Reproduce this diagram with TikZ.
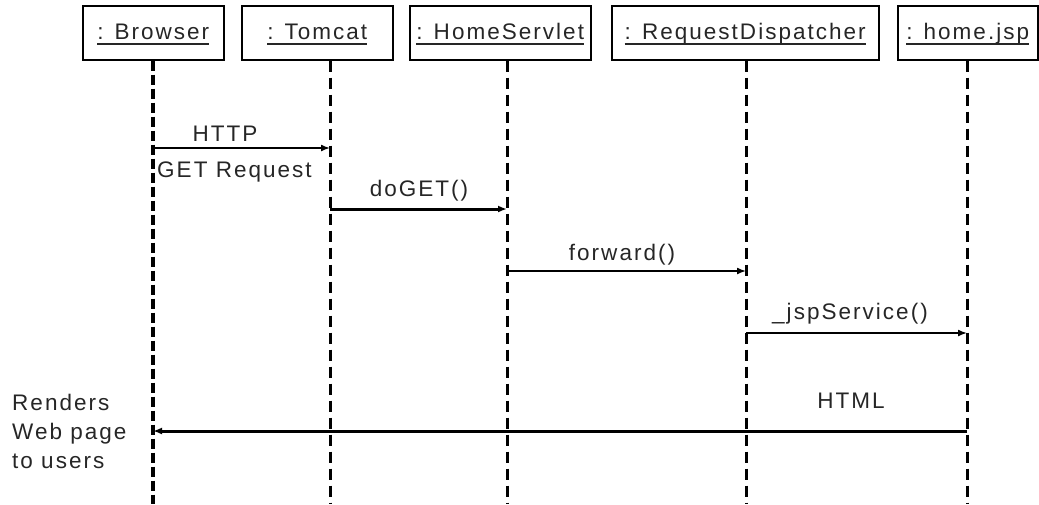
\documentclass[tikz,border=0pt]{standalone}
\usepackage{fontspec}
\usetikzlibrary{arrows.meta}
\newfontfamily\diagfont[LetterSpace=9]{Liberation Sans}
\newcommand\hdul[1]{\setbox0\hbox{#1}\rlap{\rule[-5pt]{\wd0}{1.3pt}}\box0}
\tikzset{
  objbox/.style={draw=black, line width=1.5pt, minimum height=54pt, inner sep=0pt, anchor=north west},
  txt/.style={font=\diagfont\fontsize{22.5}{29}\selectfont, text=black!85, inner sep=0pt},
  life/.style={line width=3pt, dash pattern=on 11pt off 6pt},
  lifeb/.style={line width=4.5pt, dash pattern=on 10pt off 4pt},
  msg/.style={line width=1.5pt, -{Latex[length=9pt,width=7pt]}},
  msgthick/.style={line width=3pt, -{Latex[length=9pt,width=7pt]}}
}
\begin{document}
\begin{tikzpicture}[x=1pt,y=-1pt]
\useasboundingbox (0,0) rectangle (1039,504);
% header boxes
\node[objbox, minimum width=141pt] (browser) at (82,5) {};
\node[objbox, minimum width=151pt] (tomcat) at (241,5) {};
\node[objbox, minimum width=181pt] (servlet) at (409,5) {};
\node[objbox, minimum width=267pt] (dispatcher) at (611,5) {};
\node[objbox, minimum width=140pt] (jsp) at (897,5) {};
\node[txt, anchor=base] (tbrowser) at ([yshift=-7pt]browser.center) {\hdul{: Browser}};
\node[txt, anchor=base] (ttomcat) at ([yshift=-7pt]tomcat.center) {\hdul{: Tomcat}};
\node[txt, anchor=base] (tservlet) at ([yshift=-7pt]servlet.center) {\hdul{: HomeServlet}};
\node[txt, anchor=base] (tdispatcher) at ([yshift=-7pt]dispatcher.center) {\hdul{: RequestDispatcher}};
\node[txt, anchor=base] (tjsp) at ([yshift=-7pt]jsp.center) {\hdul{: home.jsp}};
% lifeline ends
\coordinate (bl) at (153,504);
\coordinate (tl) at (330,504);
\coordinate (sl) at (507,504);
\coordinate (dl) at (746,504);
\coordinate (jl) at (967,504);
\draw[lifeb] (browser.south -| bl) -- (bl);
\draw[life] (tomcat.south -| tl) -- (tl);
\draw[life] (servlet.south -| sl) -- (sl);
\draw[life] (dispatcher.south -| dl) -- (dl);
\draw[life] (jsp.south -| jl) -- (jl);
% message end points
\coordinate (m1a) at (153,148); \coordinate (m1b) at (330,148);
\coordinate (m2a) at (330,209); \coordinate (m2b) at (507,209);
\coordinate (m3a) at (507,271); \coordinate (m3b) at (746,271);
\coordinate (m4a) at (746,333); \coordinate (m4b) at (967,333);
\coordinate (m5a) at (967,431); \coordinate (m5b) at (153,431);
\draw[msg] (m1a) -- (m1b);
\draw[msgthick] (m2a) -- (m2b);
\draw[msg] (m3a) -- (m3b);
\draw[msg] (m4a) -- (m4b);
\draw[msgthick] (m5a) -- (m5b);
% labels
\node[txt, anchor=base] (lhttp) at (225,141) {HTTP};
\node[txt, anchor=base west] (lget) at (157,177) {GET Request};
\node[txt, anchor=base] (ldoget) at (419,196) {doGET()};
\node[txt, anchor=base] (lfwd) at (622,260) {forward()};
\node[txt, anchor=base] (ljsp) at (850,319) {\_jspService()};
\node[txt, anchor=base] (lhtml) at (851,408) {HTML};
\node[txt, anchor=west, align=left] (lrender) at (12,431) {Renders\\Web page\\to users};
\end{tikzpicture}
\end{document}
